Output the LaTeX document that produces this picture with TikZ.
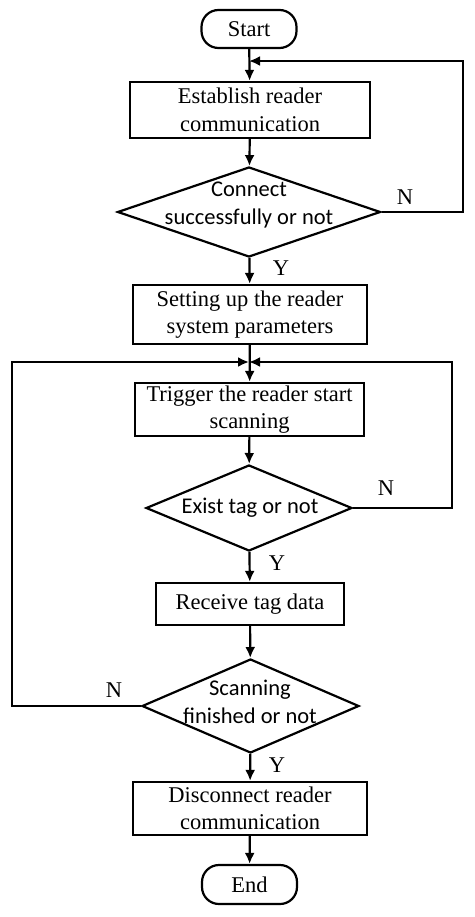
\documentclass[tikz,border=0pt]{standalone}
\usepackage{fontspec}
\setmainfont{Liberation Serif}
\newfontfamily\calib{Carlito}
\usetikzlibrary{shapes.geometric,arrows.meta}
\begin{document}
\begin{tikzpicture}[x=1pt,y=1pt,line width=2.2pt,
  every node/.style={font=\fontsize{22.5}{27.5}\selectfont},
  proc/.style={draw,rectangle,inner sep=0pt,align=center},
  term/.style={draw,rectangle,rounded corners=17pt,inner sep=0pt,minimum width=95pt,minimum height=38pt},
  dec/.style={draw,diamond,inner sep=0pt},
  dtext/.style={align=center,font=\calib\fontsize{22.5}{27.5}\selectfont},
  lab/.style={inner sep=0pt},
  arr/.style={-{Latex[length=11pt,width=10pt]}}]
\useasboundingbox (0,0) rectangle (474,-917);
\node[term] (start) at (249,-29) {Start};
\node[proc,minimum width=240pt,minimum height=56pt] (b1) at (250,-110) {Establish reader\\communication};
\node[dec,minimum width=263pt,minimum height=90pt] (d1) at (249,-212) {};
\node[dtext] (t1) at (249,-205) {Connect\\successfully or not};
\node[proc,minimum width=234pt,minimum height=59pt] (b2) at (250,-314.5) {Setting up the reader\\system parameters};
\node[proc,minimum width=229pt,minimum height=53pt] (b3) at (249.5,-409.5) {Trigger the reader start\\scanning};
\node[dec,minimum width=206pt,minimum height=86pt] (d2) at (249,-508) {};
\node[dtext] (t2) at (250,-508) {Exist tag or not};
\node[proc,minimum width=188pt,minimum height=42pt] (b4) at (250,-604) {Receive tag data};
\node[dec,minimum width=217pt,minimum height=94pt] (d3) at (250.5,-706) {};
\node[dtext] (t3) at (250,-702) {Scanning\\finished or not};
\node[proc,minimum width=234pt,minimum height=53pt] (b5) at (250,-808.5) {Disconnect reader\\communication};
\node[term,minimum height=39pt] (end) at (249.5,-884.5) {End};

\coordinate (j1) at (249,-61);
\coordinate (m) at (249,-362);
\coordinate (r1) at (463,-212);
\coordinate (r1t) at (463,-61);
\coordinate (r2) at (452,-508);
\coordinate (r2t) at (452,-362);
\coordinate (l3) at (12,-706);
\coordinate (l3t) at (12,-362);

\draw[arr] (start) -- (b1);
\draw[arr] (b1) -- (d1);
\draw[arr] (d1) -- (b2);
\draw[arr] (b2) -- (b3);
\draw[arr] (b3) -- (d2);
\draw[arr] (d2) -- (b4);
\draw[arr] (b4) -- (d3);
\draw[arr] (d3) -- (b5);
\draw[arr] (b5) -- (end);
\draw[arr] (d1.east) -- (r1) -- (r1t) -- (j1);
\draw[arr] (d2.east) -- (r2) -- (r2t) -- (m);
\draw[arr] (d3.west) -- (l3) -- (l3t) -- (m);

\node[lab] (n1) at (405,-197) {N};
\node[lab] (y1) at (281,-268) {Y};
\node[lab] (n2) at (386,-488) {N};
\node[lab] (y2) at (277,-563) {Y};
\node[lab] (n3) at (114,-690) {N};
\node[lab] (y3) at (277,-765) {Y};
\end{tikzpicture}
\end{document}
